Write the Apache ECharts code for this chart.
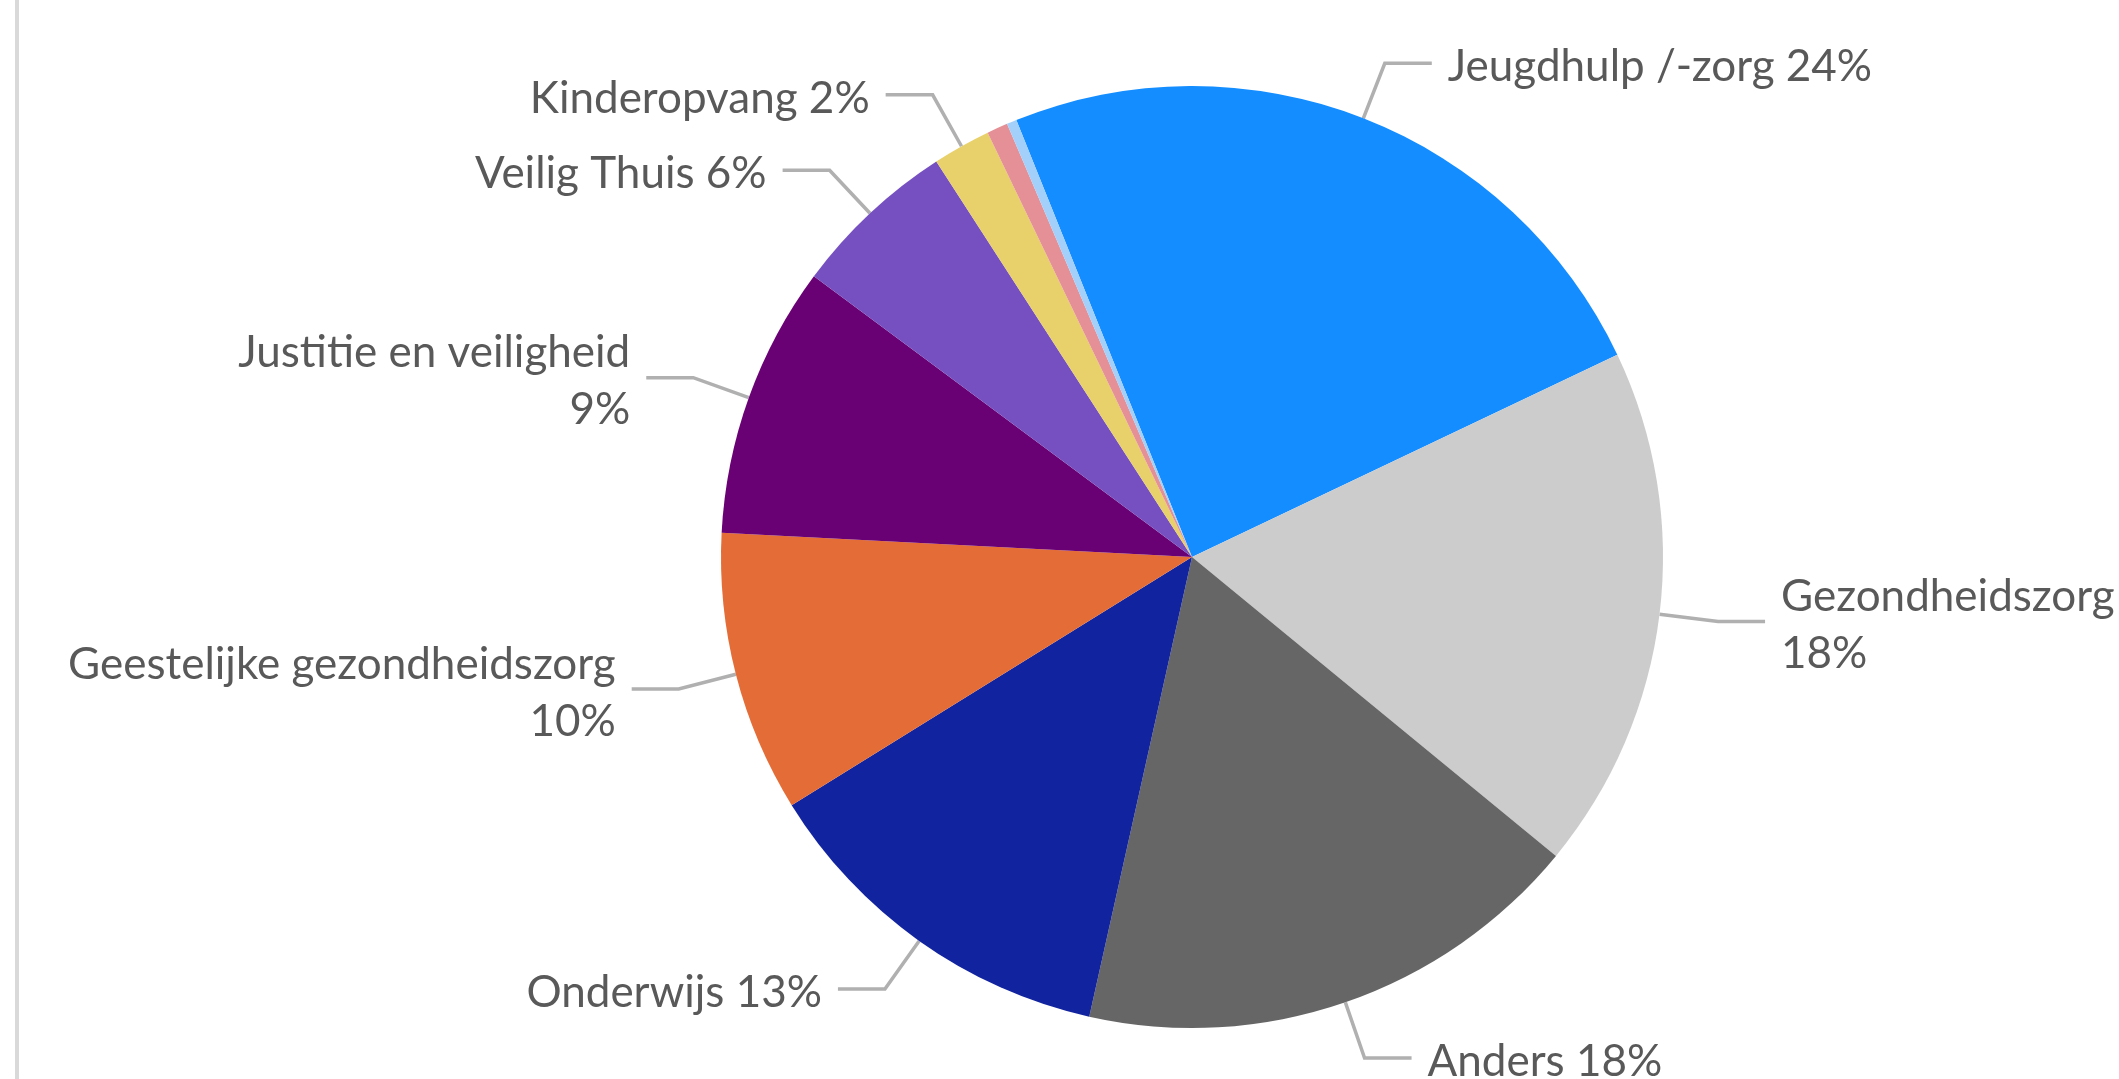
<!DOCTYPE html>
<html>
<head>
<meta charset="utf-8">
<title>Verdeling</title>
<script src="https://cdn.jsdelivr.net/npm/echarts@6/dist/echarts.min.js"></script>
<style>
  html, body { margin: 0; padding: 0; background: #fff; }
  #main { width: 2119px; height: 1079px; }
</style>
</head>
<body>
<div id="main"></div>
<script>
// data (percent of total)
const categories = ['Jeugdhulp /-zorg', 'Gezondheidszorg', 'Anders', 'Onderwijs',
  'Geestelijke gezondheidszorg', 'Justitie en veiligheid', 'Veilig Thuis',
  'Kinderopvang', 'Overig 1', 'Overig 2']
const values = [24.02, 18.01, 17.56, 12.67, 9.65, 9.35, 5.70, 1.99, 0.72, 0.34]
// label on two lines (name, then percent) or one line
const labelBreaks = [false, true, false, false, true, true, false, false, false, false]
const labelShown = [true, true, true, true, true, true, true, true, false, false]

const colors = ['#138dff', '#cccccc', '#666666', '#11239e', '#e46c37',
  '#690073', '#7650c1', '#e8d06a', '#e59096', '#a3cffb']

const chart = echarts.init(document.getElementById('main'))

chart.setOption({
  animation: false,
  backgroundColor: '#fff',
  graphic: [{
    type: 'rect',
    left: 15,
    top: 0,
    shape: { width: 4, height: 1079 },
    style: { fill: '#d9d9d9' }
  }],
  series: [{
    type: 'pie',
    center: [1192, 557],
    radius: 471,
    startAngle: 111.9,
    clockwise: true,
    avoidLabelOverlap: false,
    itemStyle: { borderWidth: 0 },
    label: {
      show: true,
      position: 'outside',
      color: '#595959',
      fontFamily: 'Lato',
      fontSize: 44,
      distanceToLabelLine: 16,
      overflow: 'none',
      formatter: p => {
        const pct = Math.round(p.percent) + '%'
        return labelBreaks[p.dataIndex]
          ? '{t|' + p.name + '}\n{t|' + pct + '}'
          : '{t|' + p.name + ' ' + pct + '}'
      },
      rich: {
        // small top padding nudges the text a bit lower, like the original
        t: { color: '#595959', fontFamily: 'Lato', fontSize: 44, lineHeight: 57, padding: [8, 0, 0, 0] }
      }
    },
    labelLine: {
      show: true,
      length: 59,
      length2: 47,
      lineStyle: { color: '#b0b0b0', width: 3.5 }
    },
    emphasis: { disabled: true },
    data: categories.map((name, i) => ({
      name: name,
      value: values[i],
      itemStyle: { color: colors[i] },
      label: { show: labelShown[i] },
      labelLine: { show: labelShown[i] }
    }))
  }]
})
</script>
</body>
</html>
